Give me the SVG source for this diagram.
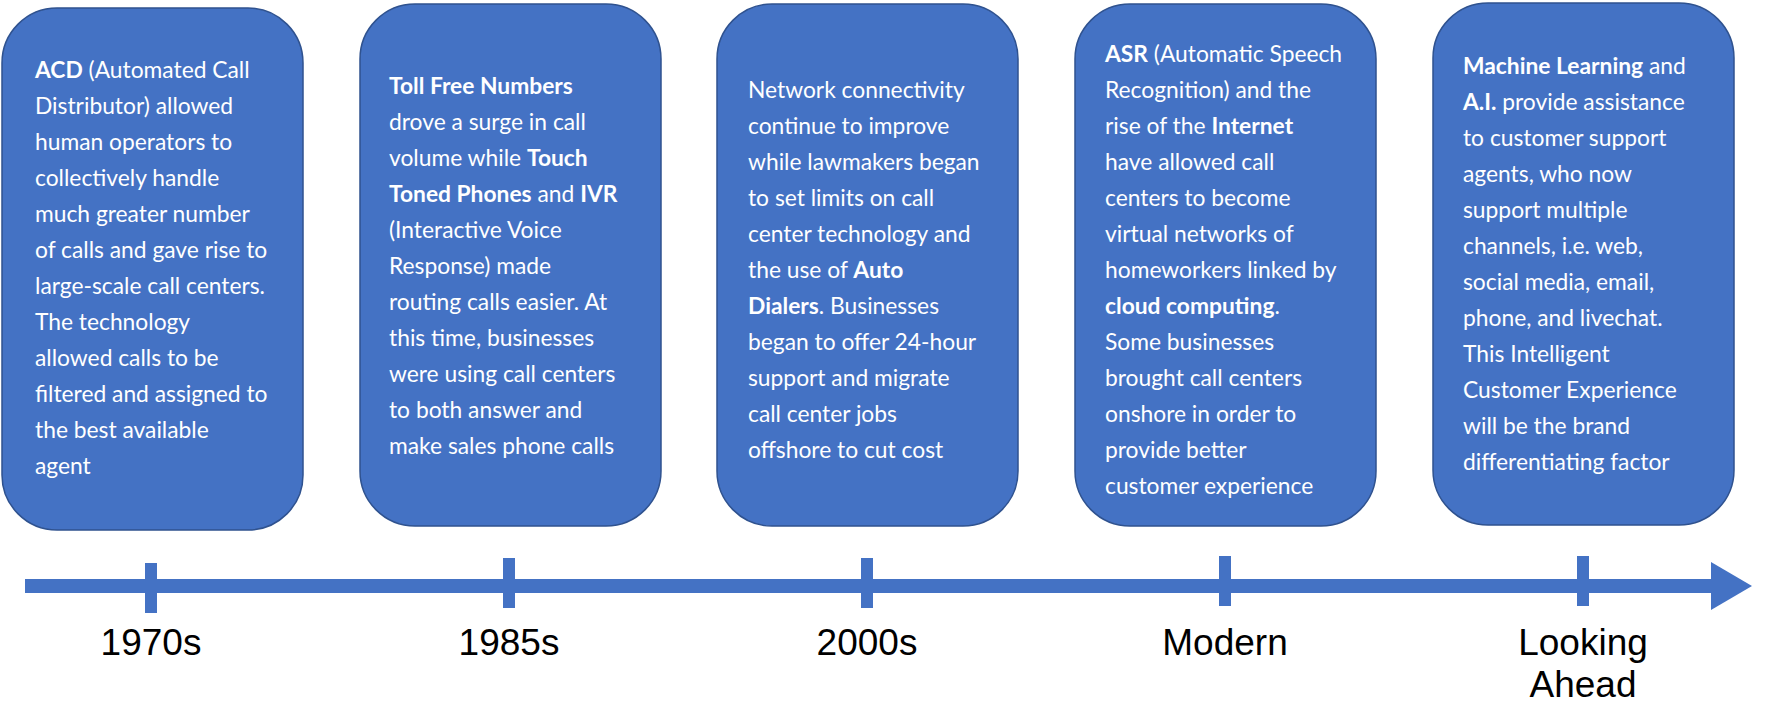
<svg xmlns="http://www.w3.org/2000/svg" width="1787" height="722" viewBox="0 0 1787 722">
<style>
.box{fill:#4472C4;stroke:#2F528F;stroke-width:1.5}
.t{font-family:Lato,"Open Sans",sans-serif;font-size:22.8px;fill:#fff}
.b{font-weight:bold}
.lab{font-family:"Liberation Sans",Arial,sans-serif;font-size:37px;fill:#000;text-anchor:middle}
.ax{fill:#4472C4}
</style>
<rect width="1787" height="722" fill="#fff"/>
<g id="connectors">
<rect class="ax" x="25" y="579" width="1694" height="14"/>
<polygon class="ax" points="1711,562 1752,586 1711,610"/>
<rect class="ax" x="145" y="563" width="12" height="50"/>
<rect class="ax" x="503" y="558" width="12" height="50"/>
<rect class="ax" x="861" y="558" width="12" height="50"/>
<rect class="ax" x="1219" y="556" width="12" height="50"/>
<rect class="ax" x="1577" y="556" width="12" height="50"/>
</g>
<g id="node1">
<rect class="box" x="2" y="8" width="301" height="522" rx="55"/>
<text class="t" x="35" y="78">
<tspan x="35" dy="0"><tspan class="b">ACD</tspan> (Automated Call</tspan>
<tspan x="35" dy="36">Distributor) allowed</tspan>
<tspan x="35" dy="36">human operators to</tspan>
<tspan x="35" dy="36">collectively handle</tspan>
<tspan x="35" dy="36">much greater number</tspan>
<tspan x="35" dy="36">of calls and gave rise to</tspan>
<tspan x="35" dy="36">large-scale call centers.</tspan>
<tspan x="35" dy="36">The technology</tspan>
<tspan x="35" dy="36">allowed calls to be</tspan>
<tspan x="35" dy="36">filtered and assigned to</tspan>
<tspan x="35" dy="36">the best available</tspan>
<tspan x="35" dy="36">agent</tspan>
</text>
<text class="lab" x="151" y="655">1970s</text>
</g>
<g id="node2">
<rect class="box" x="360" y="4" width="301" height="522" rx="55"/>
<text class="t" x="389" y="94">
<tspan x="389" dy="0" class="b">Toll Free Numbers</tspan>
<tspan x="389" dy="36">drove a surge in call</tspan>
<tspan x="389" dy="36">volume while <tspan class="b">Touch</tspan></tspan>
<tspan x="389" dy="36"><tspan class="b">Toned Phones</tspan> and <tspan class="b">IVR</tspan></tspan>
<tspan x="389" dy="36">(Interactive Voice</tspan>
<tspan x="389" dy="36">Response) made</tspan>
<tspan x="389" dy="36">routing calls easier. At</tspan>
<tspan x="389" dy="36">this time, businesses</tspan>
<tspan x="389" dy="36">were using call centers</tspan>
<tspan x="389" dy="36">to both answer and</tspan>
<tspan x="389" dy="36">make sales phone calls</tspan>
</text>
<text class="lab" x="509" y="655">1985s</text>
</g>
<g id="node3">
<rect class="box" x="717" y="4" width="301" height="522" rx="55"/>
<text class="t" x="748" y="98">
<tspan x="748" dy="0">Network connectivity</tspan>
<tspan x="748" dy="36">continue to improve</tspan>
<tspan x="748" dy="36">while lawmakers began</tspan>
<tspan x="748" dy="36">to set limits on call</tspan>
<tspan x="748" dy="36">center technology and</tspan>
<tspan x="748" dy="36">the use of <tspan class="b">Auto</tspan></tspan>
<tspan x="748" dy="36"><tspan class="b">Dialers</tspan>. Businesses</tspan>
<tspan x="748" dy="36">began to offer 24-hour</tspan>
<tspan x="748" dy="36">support and migrate</tspan>
<tspan x="748" dy="36">call center jobs</tspan>
<tspan x="748" dy="36">offshore to cut cost</tspan>
</text>
<text class="lab" x="867" y="655">2000s</text>
</g>
<g id="node4">
<rect class="box" x="1075" y="4" width="301" height="522" rx="55"/>
<text class="t" x="1105" y="62">
<tspan x="1105" dy="0"><tspan class="b">ASR</tspan> (Automatic Speech</tspan>
<tspan x="1105" dy="36">Recognition) and the</tspan>
<tspan x="1105" dy="36">rise of the <tspan class="b">Internet</tspan></tspan>
<tspan x="1105" dy="36">have allowed call</tspan>
<tspan x="1105" dy="36">centers to become</tspan>
<tspan x="1105" dy="36">virtual networks of</tspan>
<tspan x="1105" dy="36">homeworkers linked by</tspan>
<tspan x="1105" dy="36"><tspan class="b">cloud computing</tspan>.</tspan>
<tspan x="1105" dy="36">Some businesses</tspan>
<tspan x="1105" dy="36">brought call centers</tspan>
<tspan x="1105" dy="36">onshore in order to</tspan>
<tspan x="1105" dy="36">provide better</tspan>
<tspan x="1105" dy="36">customer experience</tspan>
</text>
<text class="lab" x="1225" y="655">Modern</text>
</g>
<g id="node5">
<rect class="box" x="1433" y="3" width="301" height="522" rx="55"/>
<text class="t" x="1463" y="74">
<tspan x="1463" dy="0"><tspan class="b">Machine Learning</tspan> and</tspan>
<tspan x="1463" dy="36"><tspan class="b">A.I.</tspan> provide assistance</tspan>
<tspan x="1463" dy="36">to customer support</tspan>
<tspan x="1463" dy="36">agents, who now</tspan>
<tspan x="1463" dy="36">support multiple</tspan>
<tspan x="1463" dy="36">channels, i.e. web,</tspan>
<tspan x="1463" dy="36">social media, email,</tspan>
<tspan x="1463" dy="36">phone, and livechat.</tspan>
<tspan x="1463" dy="36">This Intelligent</tspan>
<tspan x="1463" dy="36">Customer Experience</tspan>
<tspan x="1463" dy="36">will be the brand</tspan>
<tspan x="1463" dy="36">differentiating factor</tspan>
</text>
<text class="lab" x="1583" y="655">Looking</text>
<text class="lab" x="1583" y="697">Ahead</text>
</g>
</svg>
